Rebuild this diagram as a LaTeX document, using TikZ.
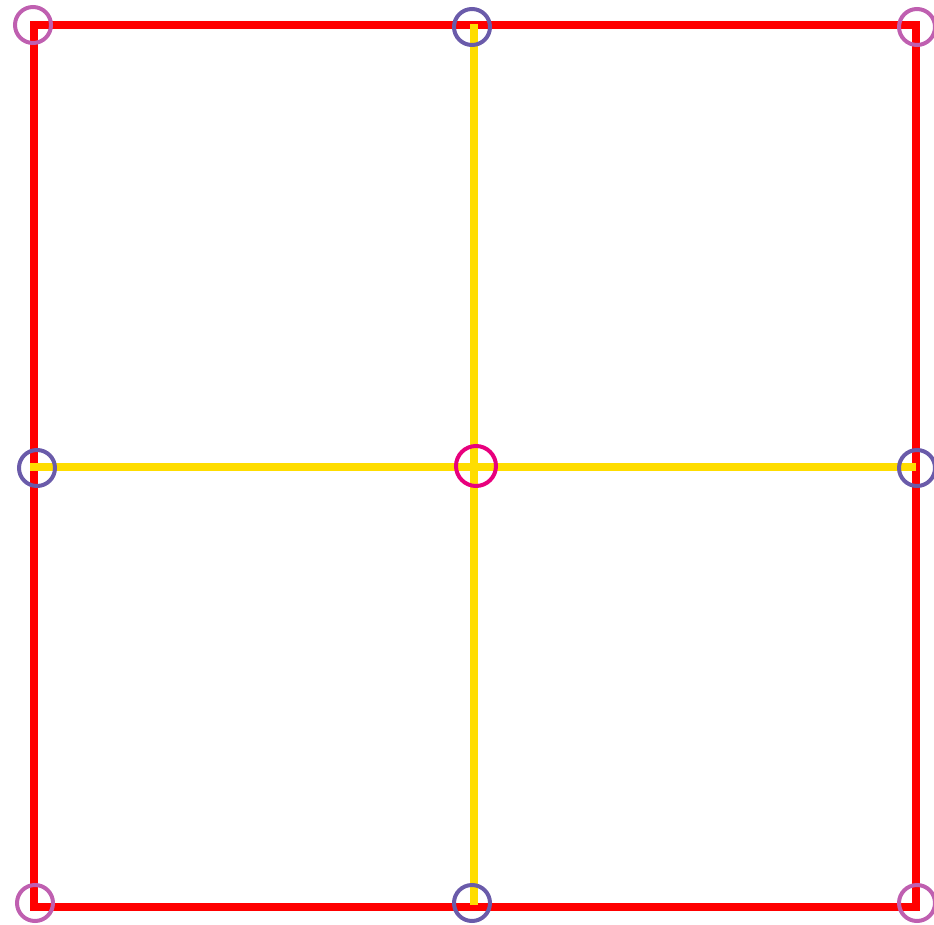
\documentclass[tikz,border=0pt]{standalone}
\definecolor{sqred}{HTML}{FF0000}
\definecolor{gridyellow}{HTML}{FFDD00}
\definecolor{cornerpurple}{HTML}{BF5FB0}
\definecolor{edgepurple}{HTML}{6A5BAA}
\definecolor{centermagenta}{HTML}{E8007D}
\tikzset{
  outline/.style={draw=sqred, line width=8pt, line join=miter},
  gridline/.style={draw=gridyellow, line width=8pt},
  ring/.style={circle, draw, line width=4pt, minimum size=36pt, inner sep=0pt, fill=none},
  cornerring/.style={ring, draw=cornerpurple},
  edgering/.style={ring, draw=edgepurple},
  centerring/.style={ring, draw=centermagenta, minimum size=40pt},
}
\begin{document}
\begin{tikzpicture}[x=1pt, y=-1pt]
\useasboundingbox (0,0) rectangle (934,925);
% grid points
\coordinate (tl) at (34,25.5);
\coordinate (tm) at (474,25.5);
\coordinate (tr) at (916,25.5);
\coordinate (ml) at (34,467);
\coordinate (c)  at (474,467);
\coordinate (mr) at (916,467);
\coordinate (bl) at (34,907);
\coordinate (bm) at (474,907);
\coordinate (br) at (916,907);
% square
\draw[outline] (tl) -- (tr) -- (br) -- (bl) -- cycle;
% cross
\draw[gridline] ([yshift=1.5pt]tm) -- ([yshift=2pt]bm);
\draw[gridline] ([xshift=-4pt]ml) -- (mr);
% rings
\node[cornerring] (rtl) at (33,25) {};
\node[edgering]   (rtm) at (472,27) {};
\node[cornerring] (rtr) at (917,27) {};
\node[edgering]   (rml) at (37,468) {};
\node[centerring] (rc)  at (476,466) {};
\node[edgering]   (rmr) at (917,468) {};
\node[cornerring] (rbl) at (35,903) {};
\node[edgering]   (rbm) at (472,903) {};
\node[cornerring] (rbr) at (917,903) {};
\end{tikzpicture}
\end{document}
